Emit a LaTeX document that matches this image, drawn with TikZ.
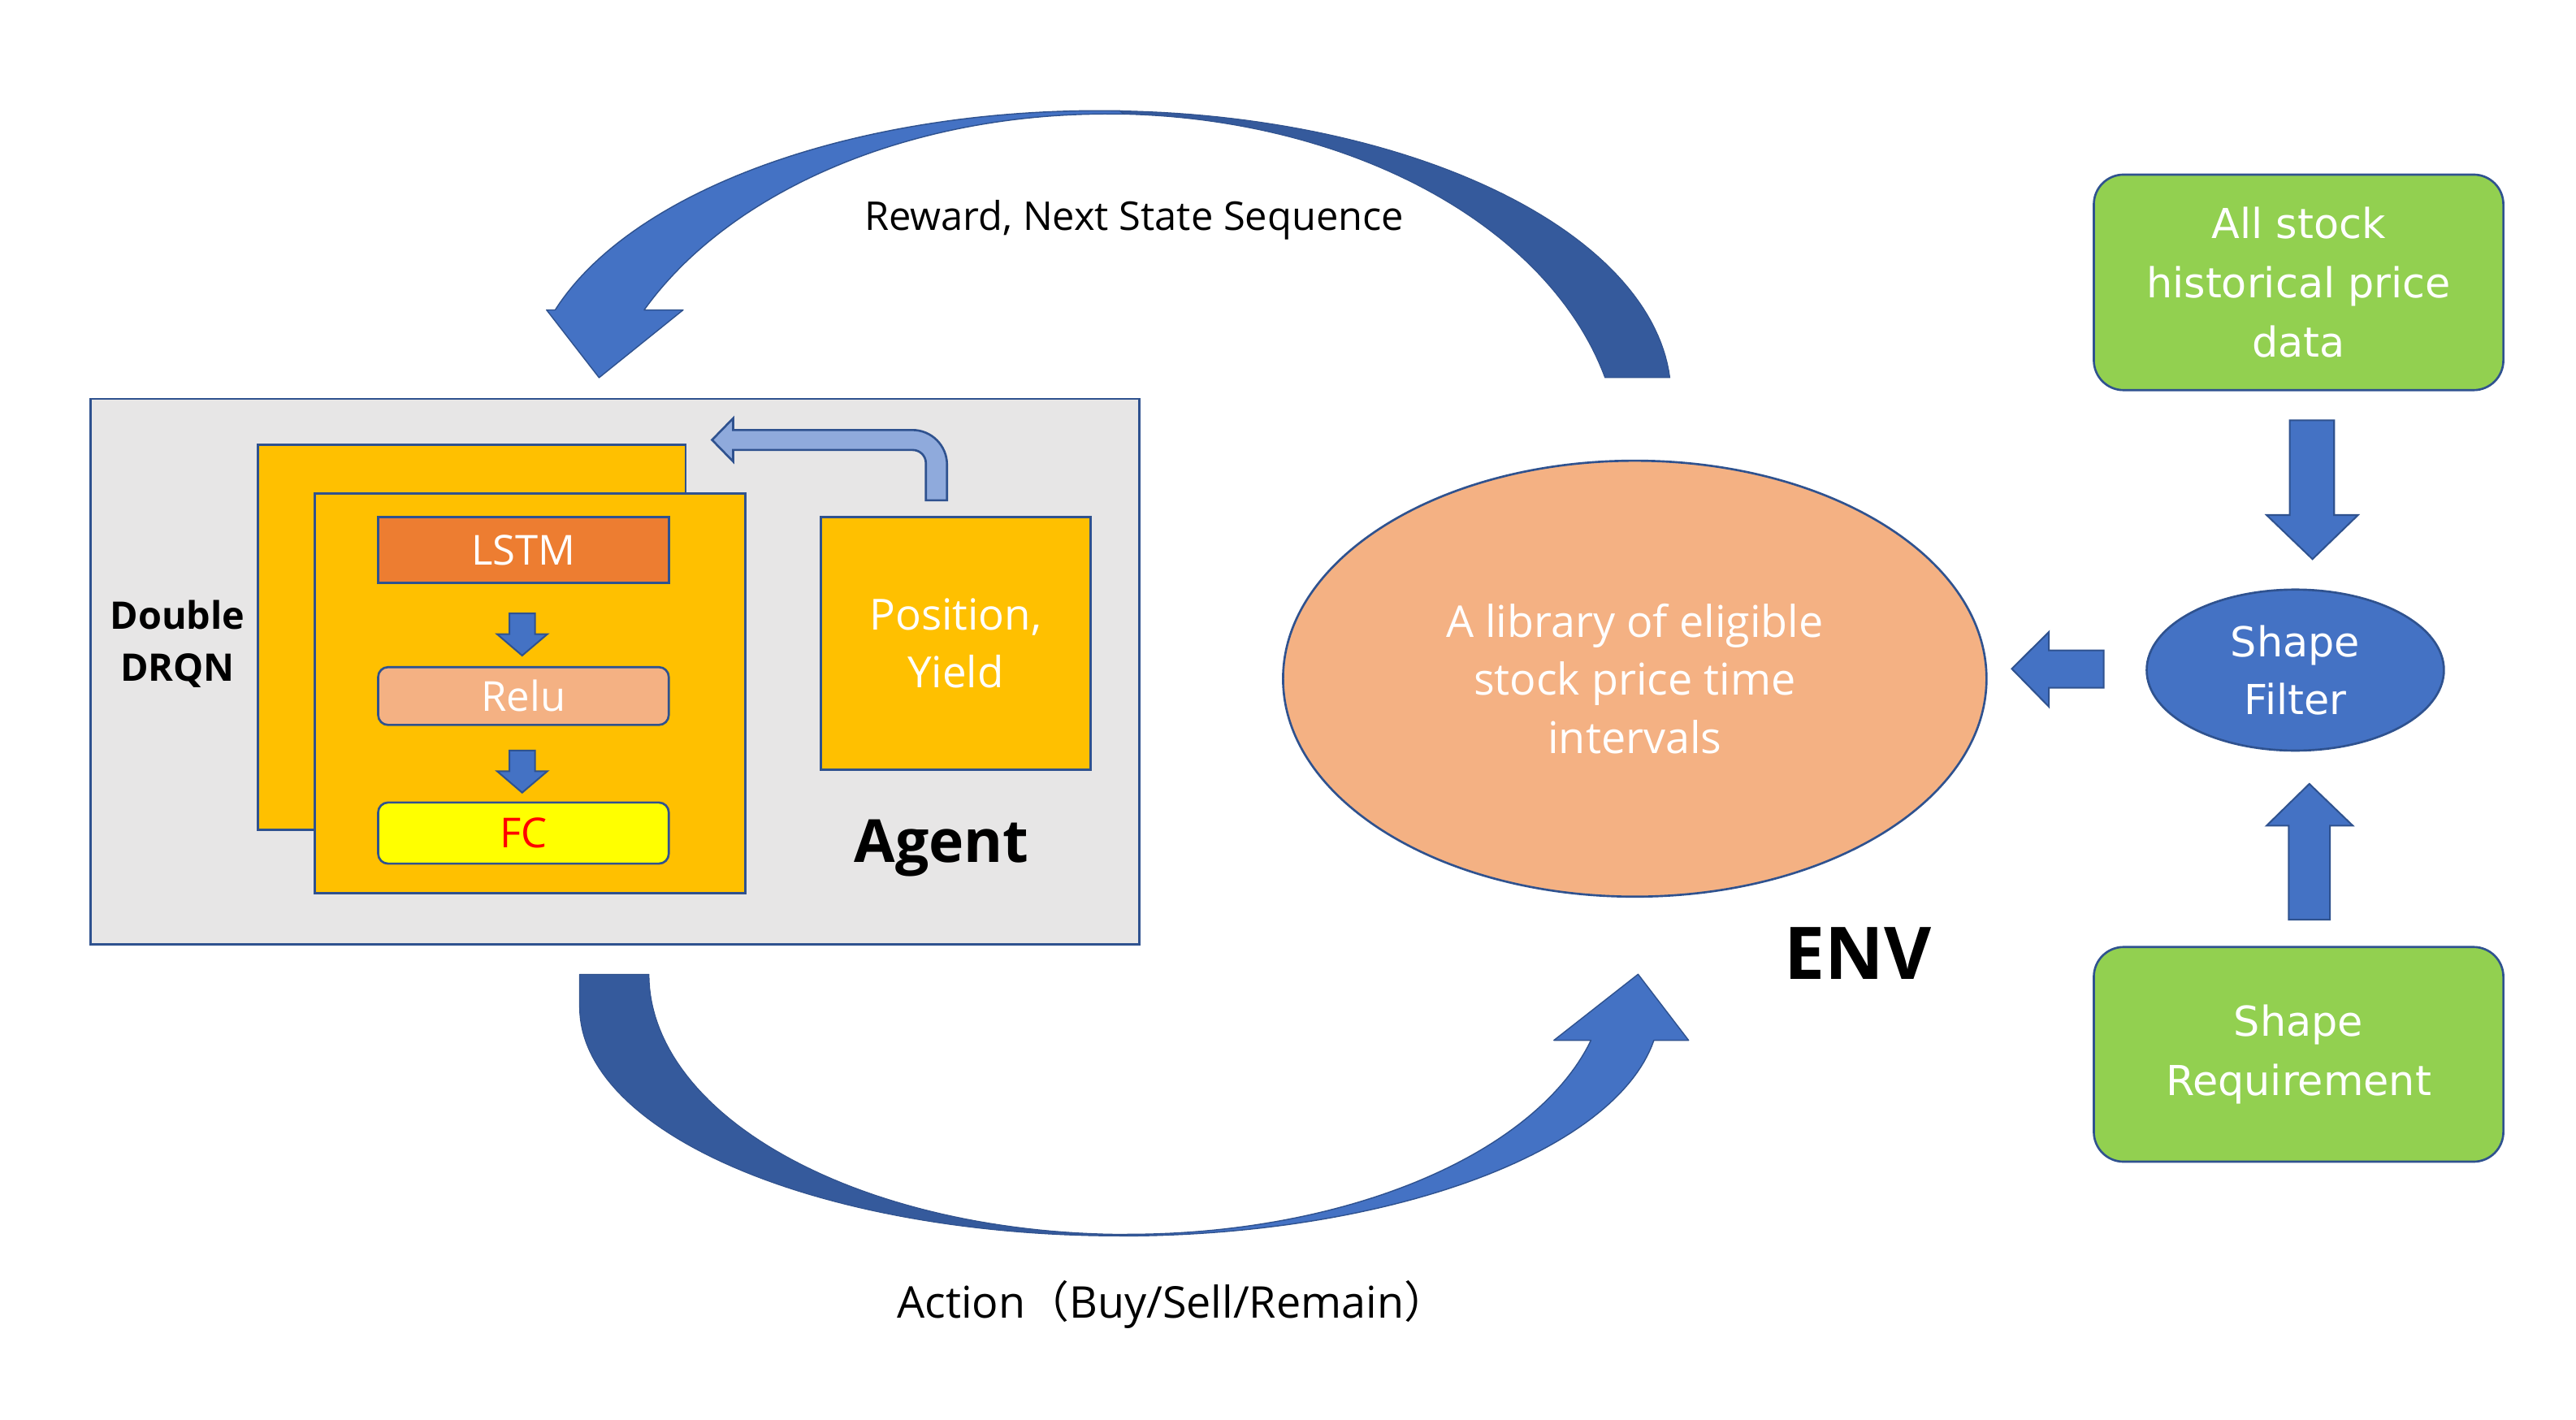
\documentclass[tikz,border=0pt]{standalone}
\usepackage{fontspec}
\setmainfont{Open Sans}
\newfontfamily\dejavu{DejaVu Sans}
\newfontfamily\cjkfont{Noto Sans CJK SC}
\usetikzlibrary{shapes.geometric}
\definecolor{olc}{HTML}{2F528F}
\definecolor{grayfill}{HTML}{E7E6E6}
\definecolor{orng}{HTML}{FFC000}
\definecolor{lstmc}{HTML}{ED7D31}
\definecolor{peach}{HTML}{F4B183}
\definecolor{yel}{HTML}{FFFF00}
\definecolor{lblue}{HTML}{8FAADC}
\definecolor{ablue}{HTML}{4472C4}
\definecolor{dblue}{HTML}{355A9C}
\definecolor{grn}{HTML}{92D050}
\begin{document}
\begin{tikzpicture}[x=1pt,y=-1pt,
  ol/.style={draw=olc, line width=1.3pt},
  box/.style={ol, rectangle, inner sep=0pt, anchor=center},
  layer/.style={box, text=white, font=\fontsize{25}{30}\selectfont, minimum width=176pt},
  greenbox/.style={box, rounded corners=18pt, fill=grn, text=white, align=center,
     minimum width=248pt, minimum height=130.5pt, font=\dejavu\fontsize{25}{36}\selectfont},
  blockarrow/.style={fill=ablue, draw=olc, line width=1pt},
  curvelight/.style={fill=ablue, draw=olc, line width=0.7pt, line join=round},
  curvedark/.style={fill=dblue, draw=dblue!90!black, line width=0.5pt, line join=round},
  label/.style={text=black, anchor=base}
]
\fill[white] (0,0) rectangle (1560,859.5);
\useasboundingbox (0,0) rectangle (1560,859.5);

% ---------------- Agent ----------------
\node[box, fill=grayfill, minimum width=635pt, minimum height=330.5pt] (agentbox) at (372.5,406.75) {};
\node[box, fill=orng, minimum width=259pt, minimum height=233pt] (drqnback) at (285.7,386) {};
\node[box, fill=orng, minimum width=260.5pt, minimum height=242pt] (drqnfront) at (321,420) {};
\node[layer, fill=lstmc, minimum height=40pt] (lstm) at (317,333) {LSTM};
\node[layer, fill=peach, rounded corners=6pt, minimum height=35pt] (relu) at (317,421.5) {Relu};
\node[layer, fill=yel, text=red, rounded corners=6pt, minimum height=37pt] (fc) at (317,504.5) {FC};

\draw[blockarrow] (308.5,371.5) -- (324,371.5) -- (324,384) -- (331.5,384) -- (316.2,397)
   -- (301,384) -- (308.5,384) -- cycle;
\draw[blockarrow] (308.5,454.5) -- (324,454.5) -- (324,467) -- (331.5,467) -- (316.2,480)
   -- (301,467) -- (308.5,467) -- cycle;

\node[box, fill=orng, minimum width=163.5pt, minimum height=153pt, text=white, align=center,
   font=\fontsize{26}{34.6}\selectfont] (posbox) at (578.75,389.5) {Position,\\Yield};

% bent arrow from position box back to the network
\draw[fill=lblue, draw=olc, line width=1.3pt]
  (560.7,303) -- (560.7,280.5) .. controls (560.7,276.08) and (557.12,272.5) .. (552.7,272.5)
  -- (444,272.5) -- (444,279.5) -- (431.2,266.4) -- (444,253.3) -- (444,260.4) -- (552.5,260.4)
  .. controls (564.1,260.4) and (573.5,269.8) .. (573.5,281.4) -- (573.5,303) -- cycle;

\node[font=\bfseries\fontsize{23}{31.3}\selectfont, align=center] (drqnlbl) at (107.5,390) {Double\\DRQN};
\node[label, font=\bfseries\fontsize{36}{40}\selectfont] (agentlbl) at (570.3,522) {Agent};

% ---------------- Environment ----------------
\node[ellipse, ol, fill=peach, minimum width=426pt, minimum height=264pt, inner sep=0pt,
   text=white, align=center, font=\fontsize{26.5}{35.3}\selectfont] (env) at (990,411)
   {A library of eligible\\stock price time\\intervals};
\node[label, font=\bfseries\fontsize{44}{48}\selectfont] (envlbl) at (1125,593) {ENV};

% ---------------- Data preparation ----------------
\node[greenbox] (alldata) at (1392,171) {All stock\\historical price\\data};
\node[greenbox, minimum height=130pt] (shapereq) at (1392,638.5) {Shape\\Requirement};
\node[ellipse, ol, fill=ablue, minimum width=180pt, minimum height=97.5pt, inner sep=0pt,
   text=white, align=center, font=\dejavu\fontsize{25}{34.8}\selectfont] (filter) at (1390,405.8) {Shape\\Filter};

\draw[blockarrow] (1386.6,254.5) -- (1413.5,254.5) -- (1413.5,311.9) -- (1428,311.9) -- (1400.4,338.6)
   -- (1372.6,311.9) -- (1386.6,311.9) -- cycle;
\draw[blockarrow] (1386,557) -- (1411,557) -- (1411,500) -- (1424.8,500) -- (1398.5,474.7)
   -- (1372.6,500) -- (1386,500) -- cycle;
\draw[blockarrow] (1274,393.9) -- (1274,416.5) -- (1240.8,416.5) -- (1240.8,428) -- (1218.3,405)
   -- (1240.8,382.7) -- (1240.8,393.9) -- cycle;

% ---------------- Top curved arrow (reward) ----------------
% outer edge: ellipse centre (666,240), radii 346 x 173; inner edge: centre (670,280), radii 311.3 x 211
\draw[curvedark]
   plot[domain=88:3.74, samples=60, variable=\t] ({666+346*cos(\t)}, {240-173*sin(\t)})
   -- plot[domain=14.07:88, samples=60, variable=\t] ({670+311.3*cos(\t)}, {280-211*sin(\t)}) -- cycle;
\draw[curvelight] (331,187.7)
   -- plot[domain=162.4:88, samples=60, variable=\t] ({666+346*cos(\t)}, {240-173*sin(\t)})
   -- plot[domain=88:154.06, samples=60, variable=\t] ({670+311.3*cos(\t)}, {280-211*sin(\t)})
   -- (413.7,187.7) -- (362.8,228.7) -- cycle;
\node[label, font=\fontsize{24}{28}\selectfont] (reward) at (686.8,139.7) {Reward, Next State Sequence};

% ---------------- Bottom curved arrow (action) ----------------
% outer edge: ellipse centre (678,610), radii 327 x 138.5; inner edge: centre (683,590), radii 290 x 157.5
\draw[curvedark] (351,590) -- (351,610)
   -- plot[domain=180:90, samples=60, variable=\t] ({678+327*cos(\t)}, {610+138.5*sin(\t)})
   -- plot[domain=90:180, samples=60, variable=\t] ({683+290*cos(\t)}, {590+157.5*sin(\t)}) -- cycle;
\draw[curvelight]
   plot[domain=90:8.3, samples=60, variable=\t] ({678+327*cos(\t)}, {610+138.5*sin(\t)})
   -- (1022.6,630) -- (992,590) -- (941,630)
   -- plot[domain=14.7:90, samples=60, variable=\t] ({683+290*cos(\t)}, {590+157.5*sin(\t)}) -- cycle;
\node[label, font=\fontsize{26.5}{30}\selectfont] (action) at (710,798.2) {Action{\cjkfont （}Buy/Sell/Remain{\cjkfont ）}};
\end{tikzpicture}
\end{document}
